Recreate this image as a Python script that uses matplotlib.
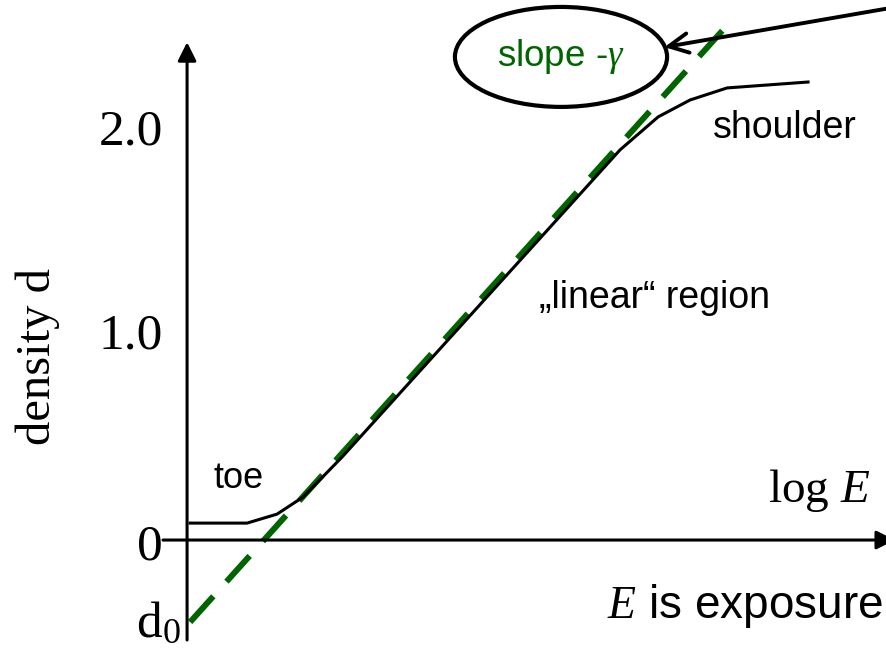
"""
Characteristic curve (H&D curve) of a photographic film
"""
from matplotlib import pyplot as plt
from matplotlib.patches import Ellipse

plt.rcParams['font.family'] = ['Liberation Sans', 'DejaVu Sans']
plt.rcParams['mathtext.fontset'] = 'custom'
plt.rcParams['mathtext.rm'] = 'Liberation Serif'
plt.rcParams['mathtext.it'] = 'Liberation Serif:italic'

GREEN = '#006400'
SERIF = ['Liberation Serif', 'DejaVu Serif']

# density curve: toe, "linear" region, shoulder
log_e = [0.015, 0.294, 0.441, 0.569, 0.760, 2.122, 2.309, 2.466, 2.647, 3.044]
density = [0.083, 0.083, 0.127, 0.211, 0.407, 1.912, 2.074, 2.157, 2.216, 2.245]

# tangent through the linear region (slope gamma, intercept d0)
tangent_x = [0.015, 2.662]
tangent_y = [-0.402, 2.539]

ytick_vals = [2.0, 1.0]
ytick_labels = ['2.0', '1.0']

fig = plt.figure(figsize=(8.87, 6.5), dpi=100)
ax = fig.add_axes([0, 0, 1, 1])
ax.set_xlim(-0.917, 3.431)
ax.set_ylim(-0.539, 2.647)
ax.axis('off')

# axes with arrow heads
ax.annotate('', xy=(0, 2.44), xytext=(0, -0.49), annotation_clip=False,
            arrowprops=dict(arrowstyle='-|>', lw=2.2, color='black',
                            mutation_scale=28, shrinkA=0, shrinkB=0))
ax.annotate('', xy=(3.47, 0), xytext=(-0.118, 0), annotation_clip=False,
            arrowprops=dict(arrowstyle='-|>', lw=2.2, color='black',
                            mutation_scale=28, shrinkA=0, shrinkB=0))

ax.plot(tangent_x, tangent_y, color=GREEN, lw=4.3, dashes=(5.8, 3.3),
        solid_capstyle='butt', dash_capstyle='butt')
ax.plot(log_e, density, color='black', lw=2.2)

# tick labels
for v, lab in zip(ytick_vals, ytick_labels):
    ax.text(-0.118, v, lab, ha='right', va='center', fontsize=37, family=SERIF)
ax.text(-0.181, -0.035, '0', ha='center', va='center', fontsize=37, family=SERIF)
ax.text(-0.14, -0.41, r'$\mathrm{d}_0$', ha='center', va='center', fontsize=37)

ax.text(-0.73, 0.9, 'density d', rotation=90, ha='center', va='center',
        fontsize=35, family=SERIF)

ax.text(0.25, 0.304, 'toe', ha='center', va='center', fontsize=26)
ax.text(2.29, 1.186, '\u201elinear\u201c region', ha='center', va='center', fontsize=27)
ax.text(2.93, 2.02, 'shoulder', ha='center', va='center', fontsize=27)

ax.text(3.35, 0.185, r'log $\mathit{E}$', ha='right', va='baseline',
        fontsize=34, family=SERIF)
ax.text(3.41, -0.38, r'$\mathit{E}$ is exposure', ha='right', va='baseline',
        fontsize=33)

# slope annotation
ax.add_patch(Ellipse((1.833, 2.368), 1.04, 0.49, fill=False, lw=3,
                     edgecolor='black'))
ax.text(1.833, 2.368, r'slope -$\gamma$', ha='center', va='center',
        fontsize=26.5, color=GREEN)
ax.annotate('', xy=(2.34, 2.416), xytext=(3.46, 2.61), annotation_clip=False,
            arrowprops=dict(arrowstyle='->', lw=2.8, color='black',
                            mutation_scale=35, shrinkA=0, shrinkB=0))

plt.savefig('out.png', dpi=100)
